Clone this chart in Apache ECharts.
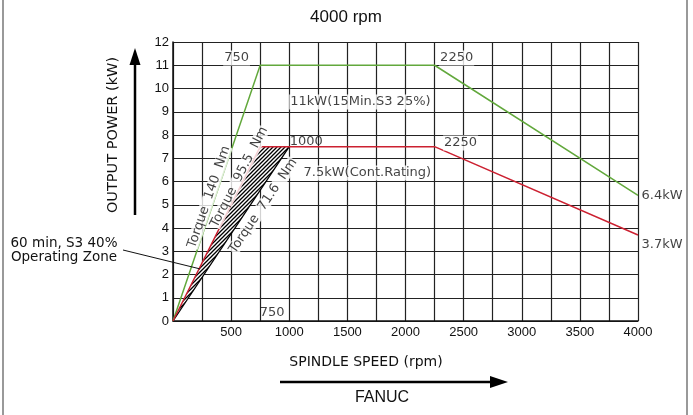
<!DOCTYPE html>
<html><head><meta charset="utf-8">
<script src="https://cdn.jsdelivr.net/npm/echarts@6/dist/echarts.min.js"></script>
<style>html,body{margin:0;padding:0;background:#fff}#c{width:693px;height:415px}</style>
</head><body><div id="c"></div>
<script>
// ---- data ----
const s3Speed = [0, 750, 2250, 4000];          // 11kW (15Min.S3 25%) curve
const s3Power = [0, 11, 11, 5.4];
const contSpeed = [0, 750, 2250, 4000];        // 7.5kW continuous rating curve
const contPower = [0, 7.5, 7.5, 3.7];
const t716Speed = [0, 1000];                   // Torque 71.6 Nm line
const t716Power = [0, 7.5];
const zoneSpeed = [0, 750, 1000];              // 60 min S3 40% operating zone (upper edge)
const zonePower = [0, 7.5, 7.5];
const leaderTarget = [233, 2.24];              // point the zone caption refers to
const xLabelValues = [500, 1000, 1500, 2000, 2500, 3000, 3500, 4000];
const yLabelValues = [0,1,2,3,4,5,6,7,8,9,10,11,12];

const zip = (a, b) => a.map((v, i) => [v, b[i]]);

function makeHatch() {
  const c = document.createElement('canvas');
  c.width = 4; c.height = 4;
  const g = c.getContext('2d');
  g.fillStyle = '#fff'; g.fillRect(0, 0, 4, 4);
  g.strokeStyle = '#000'; g.lineWidth = 1.3;
  g.beginPath();
  g.moveTo(-1, 5); g.lineTo(5, -1);
  g.moveTo(-1, 1); g.lineTo(1, -1);
  g.moveTo(3, 5); g.lineTo(5, 3);
  g.stroke();
  return c;
}
const hatch = makeHatch();

const FONT = 'DejaVu Sans';
const lab = (extra) => Object.assign({
  show: true, position: 'inside', color: '#111', fontFamily: FONT, fontSize: 13,
  backgroundColor: '#fff', padding: [1, 1]
}, extra);

const chart = echarts.init(document.getElementById('c'), null, {renderer: 'canvas'});
chart.setOption({
  animation: false,
  backgroundColor: '#fff',
  grid: {left: 173, right: 55, top: 42, bottom: 94, containLabel: false},
  xAxis: {
    type: 'value', min: 0, max: 4000, interval: 250,
    axisLine: {show: true, lineStyle: {color: '#111', width: 1.5}},
    axisTick: {show: false},
    splitLine: {show: true, lineStyle: {color: '#222', width: 1.2}},
    axisLabel: {
      margin: 5, fontSize: 13, color: '#111', fontFamily: 'Liberation Sans',
      formatter: v => xLabelValues.includes(v) ? String(v) : ''
    }
  },
  yAxis: {
    type: 'value', min: 0, max: 12, interval: 1,
    axisLine: {show: true, lineStyle: {color: '#111', width: 1.5}},
    axisTick: {show: false},
    splitLine: {show: true, lineStyle: {color: '#222', width: 1.2}},
    axisLabel: {
      margin: 4, fontSize: 13, color: '#111', fontFamily: 'Liberation Sans',
      formatter: v => yLabelValues.includes(v) ? String(v) : ''
    }
  },
  series: [
    {
      type: 'custom', silent: true, z: 2,
      data: [[0, 0]],
      renderItem: (p, api) => ({
        type: 'polygon',
        shape: {points: zoneSpeed.map((x, i) => api.coord([x, zonePower[i]]))},
        style: {fill: {image: hatch, repeat: 'repeat'}, stroke: null}
      })
    },
    {type: 'line', data: zip(t716Speed, t716Power), symbol: 'none', z: 3,
     lineStyle: {color: '#000', width: 1.3}},
    {type: 'line', data: zip(s3Speed, s3Power), symbol: 'none', z: 4,
     lineStyle: {color: '#62a83c', width: 1.5}},
    {type: 'line', data: zip(contSpeed, contPower), symbol: 'none', z: 4,
     lineStyle: {color: '#cc2131', width: 1.5}},
    {
      type: 'scatter', symbolSize: 1, itemStyle: {color: 'rgba(0,0,0,0)'}, z: 6, silent: true,
      data: [
        {value: [547, 11.31], label: lab({formatter: '750'})},
        {value: [2440, 11.31], label: lab({formatter: '2250'})},
        {value: [1612, 9.42], label: lab({formatter: '11kW(15Min.S3 25%)'})},
        {value: [1147, 7.70], label: lab({formatter: '1000', backgroundColor: 'transparent'})},
        {value: [2474, 7.66], label: lab({formatter: '2250'})},
        {value: [1672, 6.37], label: lab({formatter: '7.5kW(Cont.Rating)'})},
        {value: [853, 0.34], label: lab({formatter: '750', backgroundColor: 'transparent'})},
        {value: [310, 5.33], label: lab({formatter: 'Torque  140  Nm', rotate: 71, padding: [0, 0]})},
        {value: [569, 6.19], label: lab({formatter: 'Torque  95.5  Nm', rotate: 63, padding: [0, 0]})},
        {value: [776, 4.95], label: lab({formatter: 'Torque  71.6  Nm', rotate: 56, padding: [0, 0]})},
        {value: [4000, 5.4], label: lab({formatter: '6.4kW', position: 'right', distance: 2, backgroundColor: 'transparent'})},
        {value: [4000, 3.3], label: lab({formatter: '3.7kW', position: 'right', distance: 2, backgroundColor: 'transparent'})}
      ]
    }
  ],
  graphic: [
    {type: 'line', shape: {x1: 3, y1: 0, x2: 3, y2: 415}, style: {stroke: '#999', lineWidth: 2}},
    {type: 'line', shape: {x1: 687, y1: 0, x2: 687, y2: 415}, style: {stroke: '#999', lineWidth: 2}},
    {type: 'text', style: {text: '4000 rpm', x: 346, y: 17, align: 'center', verticalAlign: 'middle',
      font: '17px "Liberation Sans"', fill: '#111'}},
    {type: 'text', rotation: Math.PI / 2, x: 113, y: 135,
      style: {text: 'OUTPUT POWER (kW)', x: 0, y: 0, align: 'center', verticalAlign: 'middle',
      font: '14.5px "DejaVu Sans"', fill: '#111'}},
    {type: 'line', shape: {x1: 135, y1: 215, x2: 135, y2: 60}, style: {stroke: '#000', lineWidth: 2.5}},
    {type: 'polygon', shape: {points: [[135, 48], [129.5, 65], [140.5, 65]]}, style: {fill: '#000'}},
    {type: 'text', style: {text: 'SPINDLE SPEED (rpm)', x: 366, y: 362, align: 'center', verticalAlign: 'middle',
      font: '14px "DejaVu Sans"', fill: '#111'}},
    {type: 'line', shape: {x1: 280, y1: 382, x2: 495, y2: 382}, style: {stroke: '#000', lineWidth: 2.5}},
    {type: 'polygon', shape: {points: [[508, 382], [490, 376], [490, 388]]}, style: {fill: '#000'}},
    {type: 'text', style: {text: 'FANUC', x: 382, y: 398, align: 'center', verticalAlign: 'middle',
      font: '16px "Liberation Sans"', fill: '#111'}},
    {type: 'text', style: {text: '60 min, S3 40%', x: 64, y: 243, align: 'center', verticalAlign: 'middle',
      font: '13.5px "DejaVu Sans"', fill: '#111'}},
    {type: 'text', style: {text: 'Operating Zone', x: 64, y: 257, align: 'center', verticalAlign: 'middle',
      font: '13.5px "DejaVu Sans"', fill: '#111'}}
  ]
});

// leader line from the zone caption to the zone
const tgt = chart.convertToPixel({gridIndex: 0}, leaderTarget);
chart.setOption({
  graphic: [{type: 'line', id: 'leader', z: 10,
    shape: {x1: 123, y1: 250, x2: tgt[0], y2: tgt[1]}, style: {stroke: '#111', lineWidth: 1}}]
});
</script></body></html>
